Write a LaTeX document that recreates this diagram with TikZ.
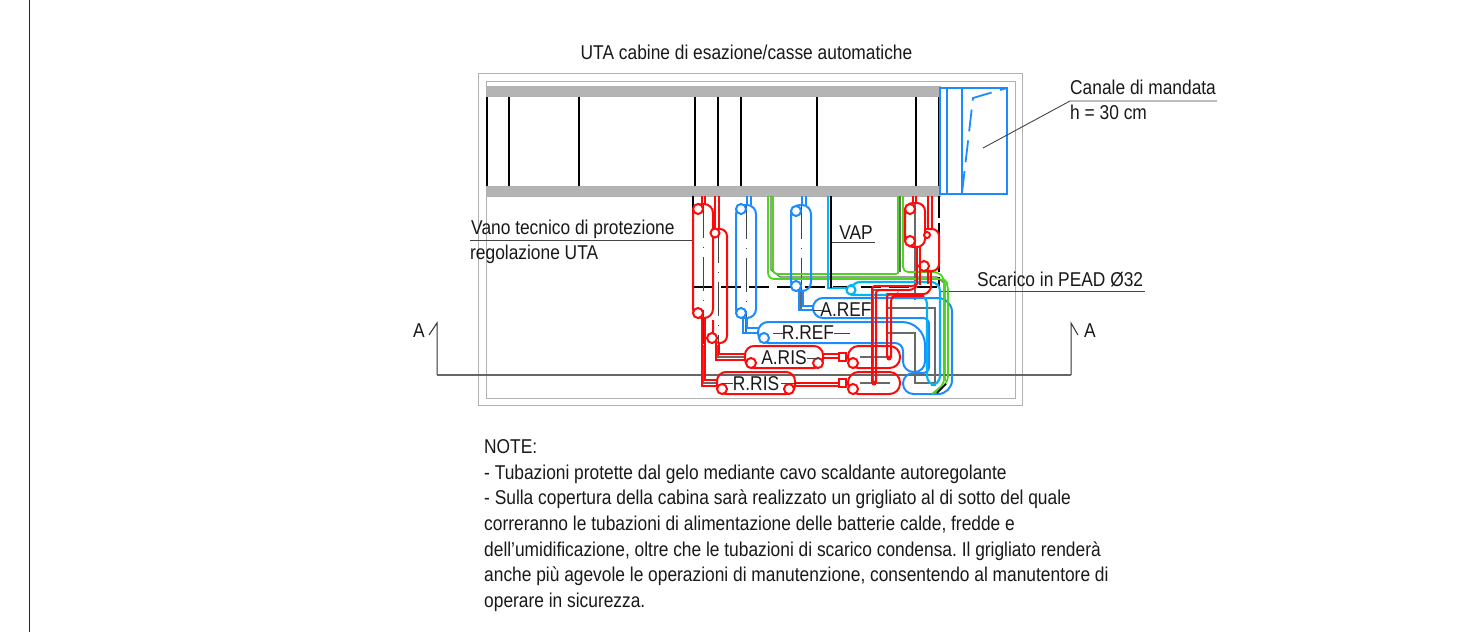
\documentclass[tikz,border=0pt]{standalone}
\usepackage{fontspec}
\setmainfont[FakeStretch=0.868,Ligatures=ResetAll]{Liberation Sans}
\frenchspacing
\definecolor{pred}{HTML}{FF0A0A}
\definecolor{pblue}{HTML}{1A8CFF}
\definecolor{pcyan}{HTML}{00B4F5}
\definecolor{pgreen}{HTML}{4CD41E}
\definecolor{bargrey}{HTML}{B4B4B4}
\definecolor{framegrey}{HTML}{B0B0B0}
\definecolor{lead}{HTML}{444444}
\tikzset{
 rp/.style={draw=pred,line width=2pt},
 bp/.style={draw=pblue,line width=2pt},
 cp/.style={draw=pcyan,line width=2.2pt},
 gp/.style={draw=pgreen,line width=1.7pt},
 frameline/.style={draw=framegrey,line width=1pt},
 barfill/.style={fill=bargrey,draw=framegrey,line width=.5pt},
 wall/.style={draw=black,line width=1.2pt},
 leader/.style={draw=lead,line width=.9pt},
 centre/.style={draw=lead!80,line width=1.1pt},
 centredash/.style={draw=lead,line width=1pt,dash pattern=on 34pt off 9pt on 1pt off 9pt},
 sect/.style={draw=black!80,line width=1pt},
 secth/.style={draw=black!60,line width=1.4pt},
 dashv/.style={draw=black,line width=1.2pt,dash pattern=on 22pt off 5pt},
 dashh/.style={draw=black,line width=1.2pt,dash pattern=on 20pt off 8pt},
 lab/.style={inner sep=0pt,anchor=west,font=\fontsize{20}{24}\selectfont,text=black!90},
 plab/.style={inner sep=0pt,font=\fontsize{20}{24}\selectfont,text=black!90},
}
\begin{document}
\begin{tikzpicture}[x=1pt,y=-1pt]
\useasboundingbox (0,0) rectangle (1478,632);
\fill[white] (0,0) rectangle (1478,632);
% sheet border
\draw[black!85,line width=.8pt] (29,0) -- (29,632);
% frame
\draw[frameline] (478,73) rectangle (1022,405);
\draw[frameline] (486,81) rectangle (1015,398);
% walls
\foreach \x in {487,509,579,695,718,741,817,916,939}{\draw[wall] (\x,94) -- (\x,188);}
\draw[barfill] (486,86) rectangle (940,96);
\draw[barfill] (486,186) rectangle (940,196);
% duct
\draw[bp] (940,88) rectangle (1007,194);
\draw[bp] (947,88) -- (947,194) (962,88) -- (962,194);
\draw[bp,line width=1.8pt,dash pattern=on 22pt off 9pt] (962,193) -- (973,98) -- (1007,88);
% leaders
\draw[leader] (983,148) -- (1070,101) -- (1217,101);
\draw[leader] (470,240) -- (693,240);
\draw[leader] (831,242) -- (875,242);
\draw[leader] (940,291) -- (1145,291);
% section line
\draw[sect] (429,335) -- (437,323) -- (437,375);
\draw[sect] (1071,375) -- (1071,323) -- (1078,335);
\draw[secth] (437,375) -- (1071,375);
% black dashed technical compartment
\draw[dashv] (693,196) -- (693,287);
\draw[dashh] (693,287) -- (939,287);
\draw[dashv] (939,196) -- (939,287);
% centre lines
\draw[centredash] (703,204) -- (703,345);
\draw[centre] (703,345) -- (703,383) -- (717,383);
\draw[centredash] (718,229) -- (718,345);
\draw[centre] (718,345) -- (718,357) -- (745,357);
\draw[centredash] (746,205) -- (746,318);
\draw[centre] (746,318) -- (746,333) -- (758,333);
\draw[centredash] (801,205) -- (801,291);
\draw[centre] (801,291) -- (801,310) -- (813,310);
\draw[centre] (771,196) -- (771,270) -- (780,277) -- (937,277) -- (945,284) -- (945,381);
\draw[centre] (900,196) -- (900,272);
\draw[centre] (915,203) -- (915,300);
\draw[centre] (887,358) -- (887,294) -- (925,294);
\draw[centre] (873,383) -- (873,290) -- (905,290);
\draw[centre] (887,333) -- (915,333) -- (915,383) -- (937,383);
\draw[centre] (887,308) -- (935,308) -- (935,385);
\draw[centre] (860,357) -- (888,357) (860,383) -- (890,383);
% blue A.REF loop
\draw[bp,rounded corners=14pt] (900,298) -- (952,298) -- (952,394) [rounded corners=10.5pt] -- (903,394) -- (903,373) [rounded corners=6pt] -- (929,373) -- (929,318) [rounded corners=10pt] -- (813,318) -- (813,298) -- cycle;
% blue R.REF loop
\draw[bp,rounded corners=8pt] (800,343) -- (903,343) [rounded corners=10.5pt] -- (903,372) -- (925,372) [rounded corners=23pt] -- (925,322) [rounded corners=10pt] -- (758,322) -- (758,343) -- cycle;
\draw[bp,fill=white] (764,338) circle (5pt);
% green pipes
\draw[gp,rounded corners=6pt] (768,196) -- (768,279) -- (944,279) -- (948,284) -- (948,382) -- (935,393);
\draw[gp,rounded corners=4pt] (773,196) -- (773,274) -- (897,274);
\draw[gp,rounded corners=5pt] (898,196) -- (898,274);
\draw[gp,rounded corners=5pt] (903,196) -- (903,272) -- (938,272) -- (944,278) -- (944,384) -- (932,394);
\draw[black,line width=1.6pt] (937,393) -- (946,384);
% cyan VAP
\draw[cp] (828,196) -- (828,288) -- (846,288);
\draw[draw=black,line width=1.1pt] (831,196) -- (831,288);
\draw[cp,rounded corners=9pt] (851,284) -- (851,282) -- (940,282) -- (940,385) -- (927,385) -- (927,295) -- (851,295);
\draw[cp,fill=white] (851,290) circle (4.5pt);
% blue pipe 1
\draw[bp,rounded corners=9pt] (736,205) rectangle (756,318);
\draw[bp] (747,196) -- (747,205) (751,196) -- (751,205);
\draw[bp] (743,318) -- (743,333) -- (758,333) (747,318) -- (747,328) -- (758,328);
\draw[bp,fill=white] (741,209) circle (5pt);
\draw[bp,fill=white] (741,313) circle (5pt);
% blue pipe 2
\draw[bp,rounded corners=9pt] (791,205) rectangle (811,291);
\draw[bp] (802,196) -- (802,205) (806,196) -- (806,205);
\draw[bp] (799,291) -- (799,310) -- (813,310) (803,291) -- (803,306) -- (813,306);
\draw[bp,fill=white] (796,211) circle (5pt);
\draw[bp,fill=white] (796,286) circle (5pt);
% red pipes, left
\draw[rp,rounded corners=9pt] (693,204) rectangle (713,318);
\draw[rp,rounded corners=7pt] (713,229) -- (727,229) -- (727,343) -- (713,343) -- (713,320);
\draw[rp] (702,196) -- (702,204) (705,196) -- (705,204);
\draw[rp] (715,196) -- (715,229) (719,196) -- (719,229);
\draw[rp] (702,318) -- (702,386) -- (717,386) (705,318) -- (705,380) -- (717,380);
\draw[rp] (716,343) -- (716,360) -- (745,360) (719,343) -- (719,354) -- (745,354);
\draw[rp,fill=white] (698,209) circle (5pt);
\draw[rp,fill=white] (698,313) circle (5pt);
\draw[rp,fill=white] (715,233) circle (4.5pt);
\draw[rp,fill=white] (712,338) circle (5pt);
% red pipes, right
\draw[rp,rounded corners=8pt] (905,203) rectangle (925,247);
\draw[rp,rounded corners=7pt] (925,229) -- (939,229) -- (939,271) -- (922,271);
\draw[rp] (913,196) -- (913,203) (916,196) -- (916,203);
\draw[rp] (928,196) -- (928,229) (932,196) -- (932,229);
\draw[rp,fill=white] (910,209) circle (5pt);
\draw[rp,fill=white] (910,241) circle (5pt);
\draw[rp,fill=white] (927,235) circle (3pt);
\draw[rp,fill=white] (924,266) circle (5pt);
\draw[rp] (917,246) -- (917,283) (920,246) -- (920,285);
\draw[rp] (928,271) -- (928,284) (931,271) -- (931,288);
% red risers to the right block
\draw[rp,rounded corners=3pt] (872,383) -- (872,286) -- (915,286) -- (918,283);
\draw[rp,rounded corners=3pt] (876,383) -- (876,290) -- (912,290) -- (917,286);
\draw[rp,rounded corners=3pt] (887,358) -- (887,294) -- (927,294) -- (931,288);
\draw[rp,rounded corners=3pt] (891,358) -- (891,298) -- (894,296) -- (924,296);
\fill[pred] (889,358) circle (2.5pt);
\fill[pred] (874,383) circle (2.5pt);
% red right loops
\draw[rp,rounded corners=10.5pt] (848,346) rectangle (900,368);
\draw[rp,rounded corners=10.5pt] (848,372) rectangle (900,394);
\draw[rp,fill=white] (853,363) circle (5pt);
\draw[rp,fill=white] (853,389) circle (5pt);
\draw[rp] (839,353) rectangle (846,361);
\draw[rp] (839,379) rectangle (846,387);
\draw[rp] (823,354) -- (839,354) (823,358) -- (839,358);
\draw[rp] (795,383) -- (839,383) (795,386) -- (839,386);
\draw[rp] (846,356) -- (848,356) (846,382) -- (848,382);
% red A.RIS / R.RIS
\draw[rp,rounded corners=9pt] (745,346) rectangle (823,368);
\draw[rp,rounded corners=9pt] (717,372) rectangle (795,394);
\draw[rp,fill=white] (751,363) circle (5pt);
\draw[rp,fill=white] (818,363) circle (5pt);
\draw[rp,fill=white] (722,389) circle (5pt);
\draw[rp,fill=white] (789,389) circle (5pt);
% leaders inside labels
\draw[leader] (773,333) -- (783,333) (834,333) -- (850,333);
\draw[leader] (807,358) -- (820,358);
\draw[leader] (722,383) -- (733,383) (781,383) -- (800,383);
\draw[leader] (813,310) -- (822,310);
% labels
\node[plab,anchor=center] (title) at (746.5,52) {UTA cabine di esazione/casse automatiche};
\node[lab] (canale) at (1070,87) {Canale di mandata};
\node[lab] (altezza) at (1070,112) {h = 30 cm};
\node[lab] (vano) at (471,229) {Vano tecnico di protezione};
\node[lab] (regol) at (470,254) {regolazione UTA};
\node[plab] (vap) at (856,233) {VAP};
\node[lab] (scarico) at (977,280) {Scarico in PEAD Ø32};
\node[plab] (aref) at (846,310) {A.REF};
\node[plab] (rref) at (808,333) {R.REF};
\node[plab] (aris) at (784,358) {A.RIS};
\node[plab] (rris) at (756,384) {R.RIS};
\node[plab] (sa) at (419,331) {A};
\node[plab] (sb) at (1090,331) {A};
\node[anchor=north west,inner sep=0pt,align=left,font=\fontsize{20}{25.6}\selectfont,text=black!90] (note) at (484,439.5) {NOTE:\\
- Tubazioni protette dal gelo mediante cavo scaldante autoregolante\\
- Sulla copertura della cabina sarà realizzato un grigliato al di sotto del quale\\
correranno le tubazioni di alimentazione delle batterie calde, fredde e\\
dell'umidificazione, oltre che le tubazioni di scarico condensa. Il grigliato renderà\\
anche più agevole le operazioni di manutenzione, consentendo al manutentore di\\
operare in sicurezza.};
\end{tikzpicture}
\end{document}
